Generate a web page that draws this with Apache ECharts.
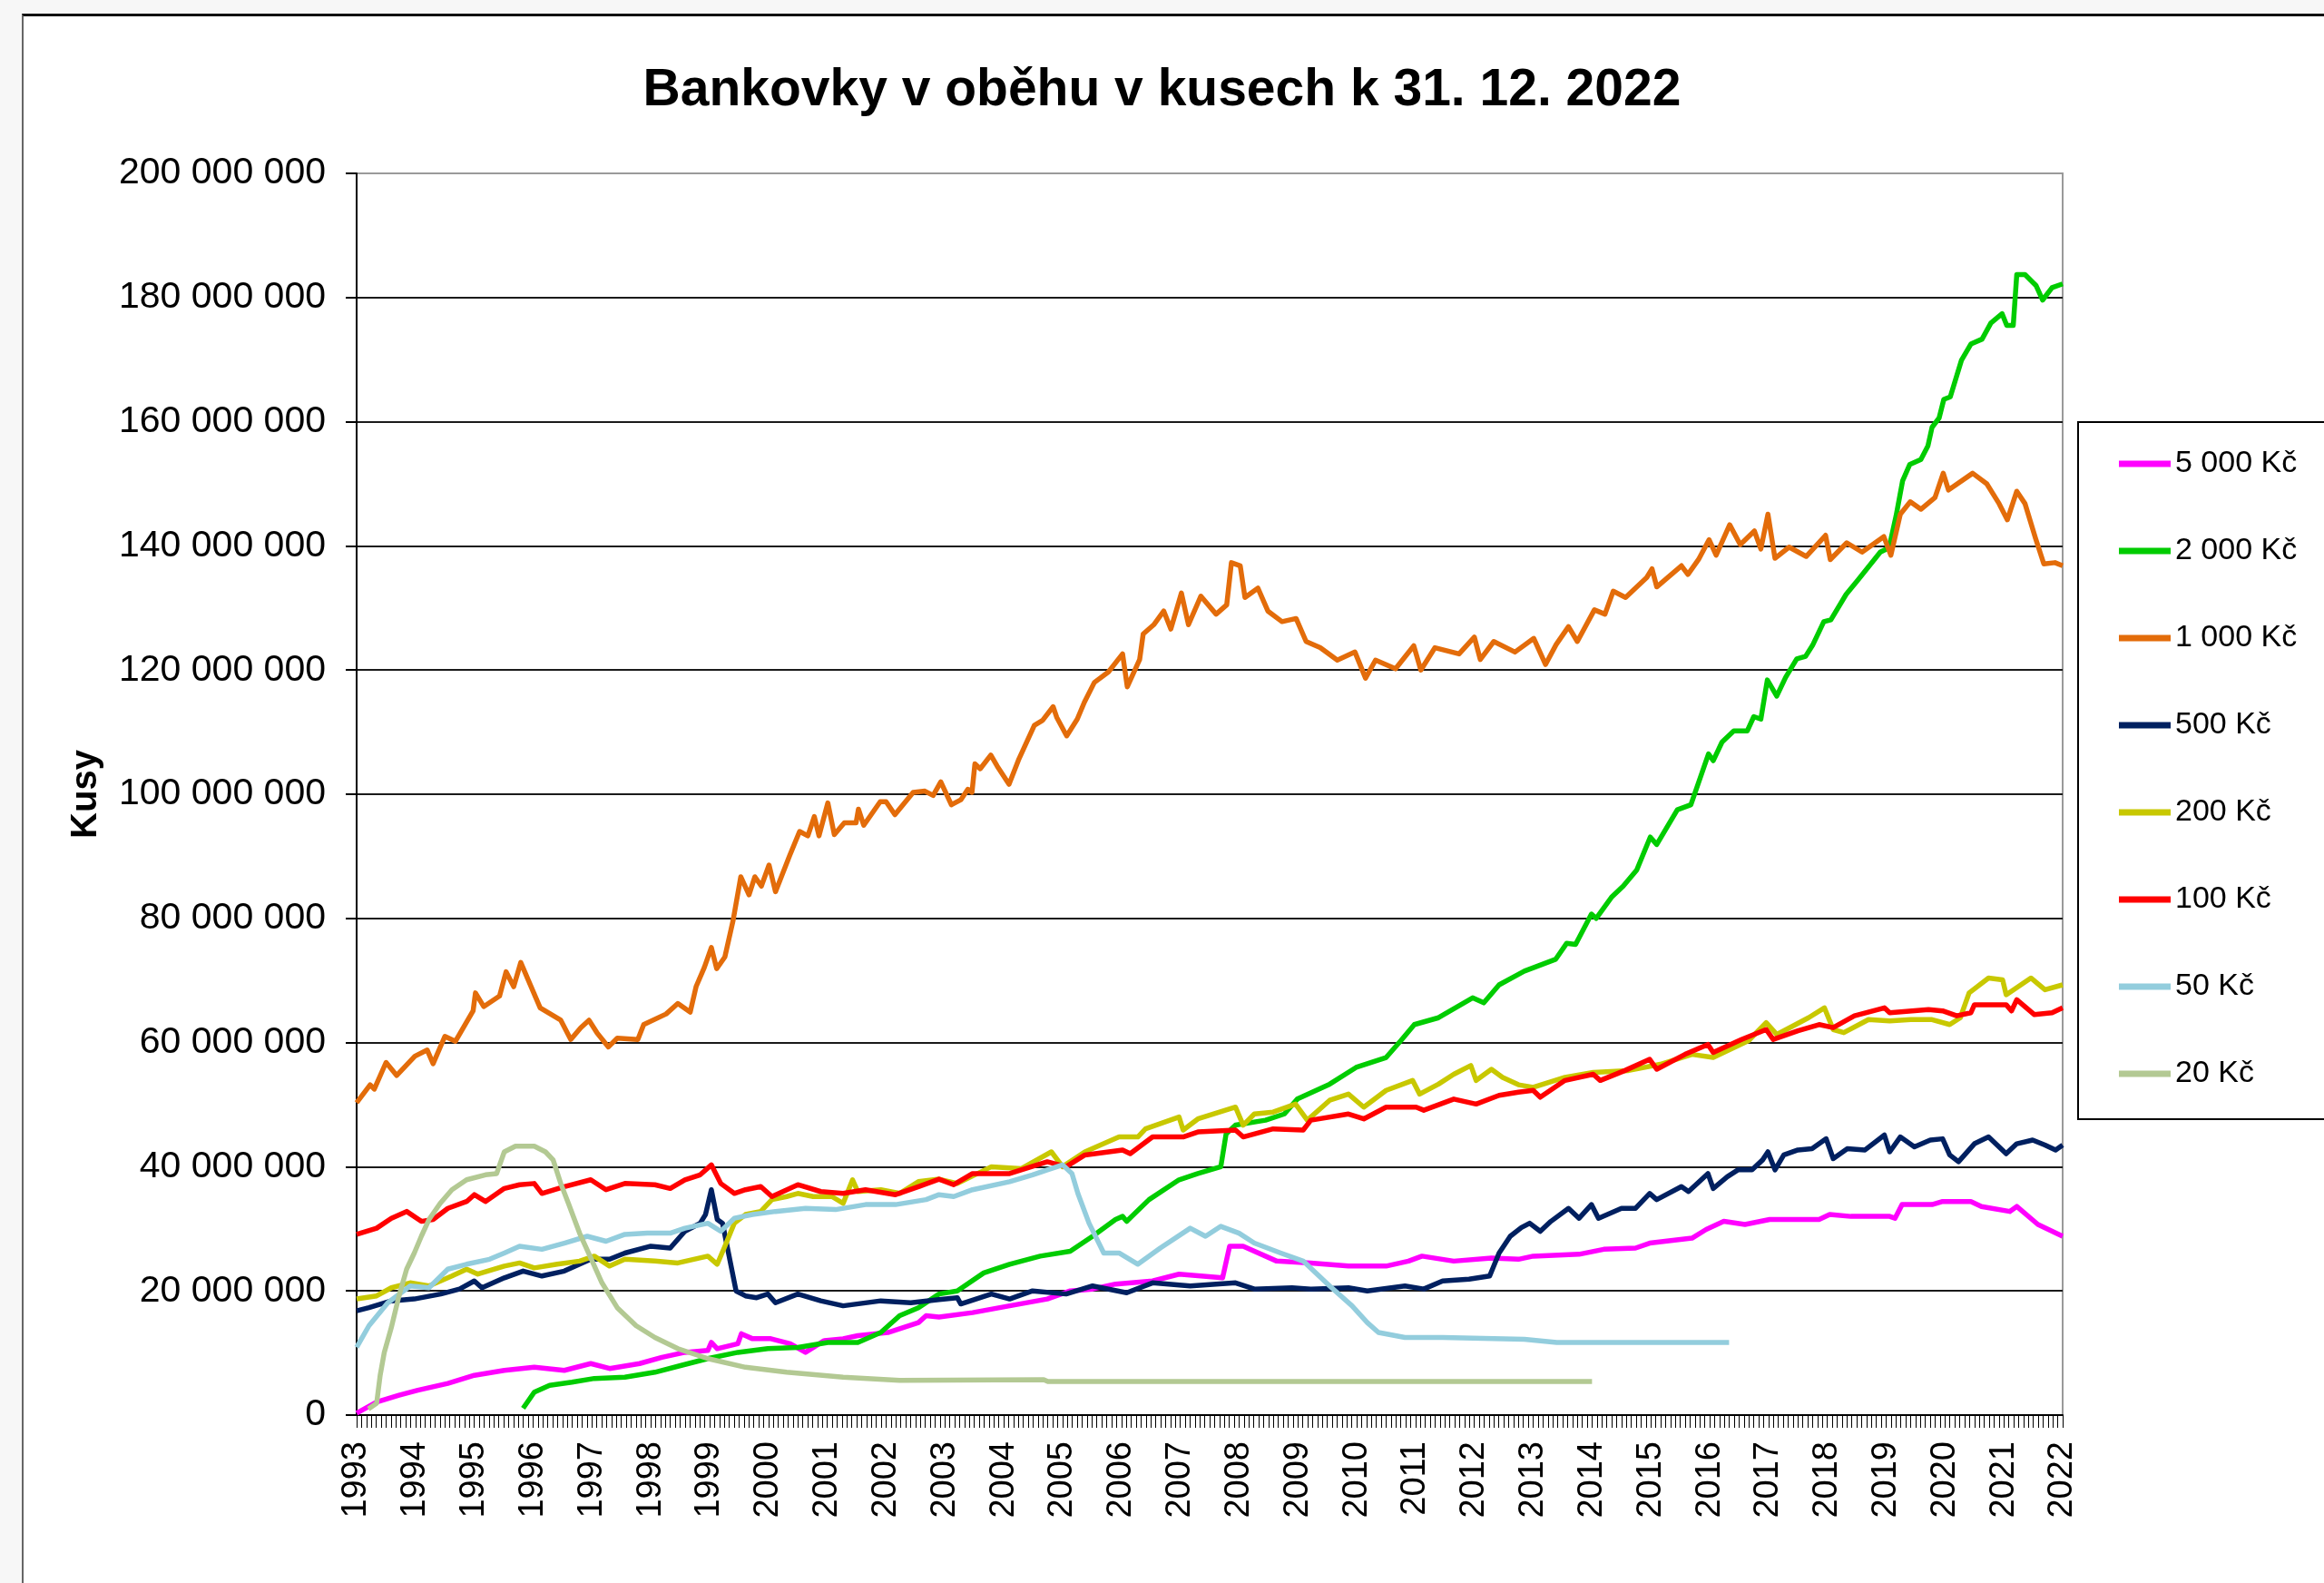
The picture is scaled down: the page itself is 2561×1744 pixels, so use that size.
<!DOCTYPE html>
<html>
<head>
<meta charset="utf-8">
<title>Bankovky v oběhu</title>
<script src="https://cdn.jsdelivr.net/npm/echarts@6/dist/echarts.min.js"></script>
<style>
html, body { margin: 0; padding: 0; background: #f7f7f7; }
#frame { position: absolute; left: 24px; top: 15px; width: 2600px; height: 1800px; background: #fff;
         border-left: 2px solid #666; border-top: 3px solid #111; }
#main { position: absolute; left: 0; top: 0; width: 2561px; height: 1744px; }
</style>
</head>
<body>
<div id="frame"></div>
<div id="main"></div>
<script>
// hodnoty v milionech kusu, [rok, pocet]
var yearLabels = [1993, 2022];
var seriesNames = ['5 000 Kč', '2 000 Kč', '1 000 Kč', '500 Kč', '200 Kč', '100 Kč', '50 Kč', '20 Kč'];
var seriesColors = ['#ff00ff', '#00cc00', '#e36c0a', '#002060', '#c8c800', '#ff0000', '#93cddd', '#b3c993'];

var b5000 = [[1993.0,0.3],[1993.34,2.1],[1993.72,3.2],[1994.04,4.0],[1994.55,5.1],[1995.0,6.4],[1995.51,7.2],
    [1996.02,7.7],[1996.53,7.2],[1996.98,8.3],[1997.3,7.5],[1997.81,8.3],[1998.19,9.3],[1998.58,10.1],[1998.97,10.4],
    [1999.03,11.7],[1999.13,10.7],[1999.48,11.5],[1999.54,13.1],[1999.73,12.3],[2000.04,12.3],[2000.37,11.5],
    [2000.63,10.1],[2000.95,12.0],[2001.27,12.3],[2001.52,12.8],[2002.03,13.3],[2002.55,14.9],[2002.68,16.0],
    [2002.9,15.8],[2003.47,16.5],[2004.1,17.6],[2004.74,18.7],[2005.13,20.0],[2005.51,20.3],[2005.9,21.1],
    [2006.53,21.6],[2006.98,22.7],[2007.72,22.1],[2007.84,27.2],[2008.07,27.2],[2008.64,24.8],[2009.22,24.5],
    [2009.86,24.0],[2010.5,24.0],[2010.88,24.8],[2011.11,25.6],[2011.65,24.8],[2012.29,25.3],[2012.75,25.1],
    [2013.0,25.6],[2013.78,25.9],[2014.2,26.7],[2014.74,26.9],[2014.98,27.7],[2015.7,28.5],[2015.94,29.9],
    [2016.24,31.2],[2016.6,30.7],[2017.02,31.5],[2017.86,31.5],[2018.04,32.3],[2018.4,32.0],[2019.06,32.0],
    [2019.15,31.7],[2019.27,33.9],[2019.78,33.9],[2019.96,34.4],[2020.44,34.4],[2020.62,33.6],[2021.1,32.8],
    [2021.22,33.6],[2021.58,30.7],[2022.0,28.8]];

var b2000 = [[1995.83,1.1],[1996.02,3.7],[1996.28,4.8],[1996.66,5.3],[1997.04,5.9],[1997.56,6.1],[1998.07,6.9],
    [1998.52,8.0],[1998.97,9.1],[1999.48,10.1],[1999.99,10.7],[2000.5,10.9],[2001.01,11.7],[2001.52,11.7],
    [2001.91,13.3],[2002.23,16.0],[2002.55,17.3],[2002.9,19.5],[2003.21,20.0],[2003.66,22.9],[2004.1,24.3],
    [2004.62,25.6],[2005.13,26.4],[2005.51,28.8],[2005.9,31.5],[2006.02,32.0],[2006.09,31.2],[2006.47,34.7],
    [2006.98,37.9],[2007.3,38.9],[2007.69,40.0],[2007.78,45.3],[2007.94,46.7],[2008.45,47.5],[2008.77,48.5],
    [2008.99,50.9],[2009.54,53.3],[2009.99,56.0],[2010.5,57.6],[2010.75,60.3],[2010.98,62.9],[2011.39,64.0],
    [2011.97,67.2],[2012.16,66.4],[2012.42,69.3],[2012.85,71.5],[2013.38,73.4],[2013.57,76.0],[2013.72,75.8],
    [2013.99,80.7],[2014.07,80.0],[2014.33,83.4],[2014.53,85.2],[2014.76,87.8],[2014.99,93.1],[2015.1,91.9],
    [2015.45,97.5],[2015.68,98.3],[2015.98,106.5],[2016.06,105.4],[2016.21,108.4],[2016.41,110.2],[2016.64,110.2],
    [2016.75,112.5],[2016.87,112.1],[2016.98,118.4],[2017.14,115.8],[2017.29,118.8],[2017.48,121.8],[2017.63,122.2],
    [2017.75,124.0],[2017.94,127.8],[2018.06,128.1],[2018.32,132.2],[2018.52,134.5],[2018.9,139.0],[2019.05,139.7],
    [2019.17,144.9],[2019.28,150.5],[2019.4,153.1],[2019.59,153.9],[2019.71,156.1],[2019.78,159.1],[2019.9,160.6],
    [2019.98,163.6],[2020.09,164.0],[2020.28,169.9],[2020.44,172.5],[2020.63,173.3],[2020.78,175.9],[2020.97,177.4],
    [2021.05,175.5],[2021.16,175.5],[2021.22,183.7],[2021.36,183.7],[2021.55,181.9],[2021.66,179.6],[2021.82,181.6],
    [2022.0,182.2]];

var b1000 = [[1993.0,50.3],[1993.23,53.2],[1993.3,52.5],[1993.5,56.8],[1993.68,54.7],[1993.99,57.8],[1994.2,58.8],
    [1994.3,56.6],[1994.5,61.0],[1994.68,60.2],[1994.98,65.1],[1995.02,68.0],[1995.16,65.8],[1995.43,67.5],
    [1995.54,71.4],[1995.67,69.0],[1995.79,72.9],[1995.92,70.0],[1996.12,65.6],[1996.47,63.6],[1996.64,60.5],
    [1996.81,62.4],[1996.95,63.6],[1997.09,61.5],[1997.28,59.3],[1997.43,60.7],[1997.78,60.5],[1997.88,62.9],
    [1998.26,64.6],[1998.46,66.3],[1998.67,64.9],[1998.77,69.0],[1998.91,72.1],[1999.03,75.3],[1999.12,71.9],
    [1999.26,73.8],[1999.4,79.7],[1999.53,86.7],[1999.67,83.8],[1999.77,86.7],[1999.88,85.2],[2000.01,88.6],
    [2000.12,84.3],[2000.36,90.1],[2000.53,94.0],[2000.67,93.3],[2000.78,96.4],[2000.86,93.3],[2001.01,98.6],
    [2001.12,93.5],[2001.29,95.4],[2001.49,95.4],[2001.53,97.6],[2001.62,95.0],[2001.9,98.8],[2002.0,98.8],
    [2002.15,96.7],[2002.46,100.3],[2002.66,100.5],[2002.8,99.8],[2002.93,102.0],[2003.11,98.3],[2003.27,99.1],
    [2003.39,100.8],[2003.46,100.3],[2003.51,104.9],[2003.6,104.1],[2003.78,106.3],[2003.89,104.5],[2004.09,101.6],
    [2004.25,105.5],[2004.52,111.1],[2004.66,111.9],[2004.84,114.1],[2004.9,112.4],[2005.07,109.4],[2005.25,112.1],
    [2005.37,114.8],[2005.54,118.0],[2005.78,119.7],[2006.02,122.6],[2006.1,117.3],[2006.31,121.7],[2006.37,125.8],
    [2006.55,127.3],[2006.72,129.5],[2006.84,126.6],[2007.02,132.4],[2007.14,127.3],[2007.35,131.9],[2007.61,129.0],
    [2007.79,130.5],[2007.87,137.3],[2008.02,136.8],[2008.1,131.7],[2008.32,133.2],[2008.49,129.5],[2008.73,127.8],
    [2008.97,128.3],[2009.14,124.6],[2009.38,123.6],[2009.67,121.6],[2009.97,122.9],[2010.15,118.7],[2010.32,121.6],
    [2010.66,120.2],[2010.97,123.9],[2011.09,120.0],[2011.33,123.6],[2011.74,122.6],[2012.0,125.3],[2012.1,121.7],
    [2012.33,124.6],[2012.69,122.9],[2013.01,125.1],[2013.21,120.9],[2013.39,124.1],[2013.6,127.0],[2013.75,124.6],
    [2014.04,129.7],[2014.22,129.0],[2014.36,132.7],[2014.57,131.7],[2014.93,134.9],[2015.02,136.3],[2015.1,133.4],
    [2015.52,136.8],[2015.63,135.4],[2015.81,137.8],[2015.99,141.0],[2016.11,138.5],[2016.34,143.4],[2016.52,140.2],
    [2016.76,142.4],[2016.87,139.5],[2016.99,145.1],[2017.11,138.0],[2017.35,139.8],[2017.64,138.3],[2017.97,141.7],
    [2018.05,137.8],[2018.33,140.5],[2018.59,139.0],[2018.96,141.5],[2019.08,138.5],[2019.24,145.1],[2019.41,147.1],
    [2019.59,145.9],[2019.83,147.8],[2019.97,151.7],[2020.06,149.0],[2020.47,151.7],[2020.71,150.0],[2020.92,146.8],
    [2021.06,144.2],[2021.22,148.8],[2021.36,146.8],[2021.54,141.2],[2021.68,137.1],[2021.87,137.3],[2022.0,136.8]];

var b500 = [[1993.0,16.8],[1993.21,17.3],[1993.59,18.4],[1993.98,18.7],[1994.43,19.5],[1994.75,20.3],[1995.0,21.6],
    [1995.13,20.5],[1995.51,22.1],[1995.83,23.2],[1996.15,22.4],[1996.53,23.2],[1996.98,25.1],[1997.3,25.1],
    [1997.56,26.1],[1998.0,27.2],[1998.33,26.9],[1998.58,29.6],[1998.84,30.9],[1998.93,32.3],[1999.03,36.3],
    [1999.13,31.5],[1999.22,30.9],[1999.45,20.0],[1999.61,19.2],[1999.8,18.9],[1999.99,19.5],[2000.12,18.1],
    [2000.5,19.5],[2000.89,18.4],[2001.27,17.6],[2001.91,18.4],[2002.42,18.1],[2002.9,18.6],[2003.21,18.9],
    [2003.27,17.9],[2003.79,19.5],[2004.1,18.7],[2004.49,20.0],[2005.06,19.5],[2005.51,20.8],[2006.09,19.7],
    [2006.53,21.3],[2007.17,20.8],[2007.94,21.3],[2008.26,20.3],[2008.9,20.5],[2009.22,20.3],[2009.86,20.5],
    [2010.18,20.0],[2010.82,20.8],[2011.14,20.3],[2011.46,21.6],[2011.91,21.9],[2012.26,22.4],[2012.42,26.1],
    [2012.61,28.8],[2012.8,30.2],[2012.94,30.9],[2013.12,29.6],[2013.3,31.2],[2013.6,33.3],[2013.78,31.7],
    [2013.99,33.9],[2014.11,31.7],[2014.5,33.3],[2014.74,33.3],[2014.98,35.7],[2015.1,34.7],[2015.52,36.8],
    [2015.64,36.0],[2015.97,38.9],[2016.06,36.5],[2016.3,38.4],[2016.48,39.5],[2016.72,39.5],[2016.9,41.1],
    [2016.99,42.4],[2017.11,39.5],[2017.26,41.9],[2017.5,42.7],[2017.74,42.9],[2017.98,44.5],[2018.1,41.3],
    [2018.34,42.9],[2018.64,42.7],[2018.97,45.1],[2019.06,42.4],[2019.24,44.8],[2019.48,43.2],[2019.75,44.3],
    [2019.96,44.5],[2020.08,41.9],[2020.23,40.8],[2020.5,43.7],[2020.74,44.8],[2021.04,42.1],[2021.22,43.7],
    [2021.49,44.3],[2021.7,43.5],[2021.88,42.7],[2022.0,43.5]];

var b200 = [[1993.0,18.7],[1993.34,19.2],[1993.59,20.5],[1993.91,21.3],[1994.23,20.8],[1994.62,22.4],[1994.87,23.5],
    [1995.06,22.7],[1995.51,24.0],[1995.77,24.5],[1996.02,23.7],[1996.41,24.3],[1996.79,24.8],[1997.04,25.6],
    [1997.3,24.0],[1997.56,25.1],[1998.07,24.8],[1998.46,24.5],[1998.97,25.6],[1999.13,24.3],[1999.26,27.2],
    [1999.42,30.9],[1999.61,32.3],[1999.87,32.8],[2000.06,34.7],[2000.31,35.2],[2000.5,35.7],[2000.76,35.2],
    [2001.08,35.2],[2001.27,34.1],[2001.43,37.9],[2001.52,36.0],[2001.91,36.3],[2002.23,35.7],[2002.55,37.6],
    [2002.9,38.0],[2003.21,37.3],[2003.79,40.0],[2004.3,39.7],[2004.81,42.4],[2005.0,40.0],[2005.38,42.4],
    [2005.96,44.8],[2006.28,44.8],[2006.41,46.1],[2006.98,48.0],[2007.05,45.9],[2007.3,47.7],[2007.94,49.6],
    [2008.07,46.7],[2008.26,48.5],[2008.58,48.8],[2008.96,50.1],[2009.16,47.5],[2009.54,50.7],[2009.86,51.7],
    [2010.12,49.6],[2010.5,52.3],[2010.95,53.9],[2011.07,51.7],[2011.39,53.3],[2011.65,54.9],[2011.94,56.3],
    [2012.03,53.9],[2012.29,55.7],[2012.48,54.4],[2012.75,53.2],[2013.0,52.8],[2013.54,54.4],[2014.02,55.2],
    [2014.62,55.5],[2015.16,56.5],[2015.7,58.1],[2016.06,57.6],[2016.66,60.3],[2016.96,63.2],[2017.14,61.3],
    [2017.68,64.0],[2017.95,65.6],[2018.1,62.1],[2018.28,61.6],[2018.7,63.7],[2019.06,63.5],[2019.42,63.7],
    [2019.78,63.7],[2020.08,62.9],[2020.26,64.0],[2020.41,68.0],[2020.74,70.4],[2020.98,70.1],[2021.04,67.7],
    [2021.46,70.4],[2021.7,68.5],[2022.0,69.3]];

var b100 = [[1993.0,29.1],[1993.34,30.1],[1993.59,31.7],[1993.85,32.8],[1994.1,31.2],[1994.3,31.5],[1994.55,33.3],
    [1994.87,34.4],[1995.0,35.5],[1995.19,34.4],[1995.51,36.5],[1995.77,37.1],[1996.02,37.3],[1996.15,35.7],
    [1996.53,36.8],[1996.98,37.9],[1997.24,36.3],[1997.56,37.3],[1998.07,37.1],[1998.33,36.5],[1998.58,37.9],
    [1998.84,38.7],[1999.03,40.3],[1999.19,37.3],[1999.42,35.7],[1999.61,36.3],[1999.87,36.8],[2000.06,35.2],
    [2000.5,37.1],[2000.89,36.0],[2001.27,35.7],[2001.65,36.3],[2002.16,35.5],[2002.55,36.8],[2002.9,38.0],
    [2003.15,37.1],[2003.47,38.9],[2004.1,38.9],[2004.74,40.8],[2005.06,40.0],[2005.38,41.9],[2006.02,42.7],
    [2006.15,42.1],[2006.53,44.8],[2007.05,44.8],[2007.3,45.6],[2007.94,45.9],[2008.07,44.8],[2008.58,46.1],
    [2009.09,45.9],[2009.22,47.5],[2009.86,48.5],[2010.12,47.7],[2010.5,49.6],[2011.01,49.6],[2011.14,49.1],
    [2011.65,50.9],[2012.03,50.1],[2012.42,51.5],[2012.75,52.0],[2013.0,52.3],[2013.12,51.2],[2013.54,53.9],
    [2014.02,54.9],[2014.14,53.9],[2014.56,55.5],[2014.98,57.3],[2015.1,55.7],[2015.58,58.1],[2015.97,59.7],
    [2016.06,58.4],[2016.54,60.5],[2016.96,62.1],[2017.08,60.5],[2017.5,61.9],[2017.86,62.9],[2018.1,62.4],
    [2018.46,64.3],[2018.97,65.6],[2019.06,64.8],[2019.72,65.3],[2019.96,65.1],[2020.2,64.3],[2020.44,64.8],
    [2020.5,66.1],[2021.04,66.1],[2021.13,65.1],[2021.22,66.9],[2021.52,64.5],[2021.82,64.8],[2022.0,65.6]];

var b50 = [[1993.0,10.9],[1993.21,14.4],[1993.53,18.1],[1993.91,20.8],[1994.23,20.5],[1994.55,23.5],[1994.87,24.3],
    [1995.26,25.1],[1995.51,26.1],[1995.77,27.2],[1996.15,26.7],[1996.53,27.7],[1996.92,28.8],[1997.24,28.0],
    [1997.56,29.1],[1997.94,29.3],[1998.33,29.3],[1998.58,30.1],[1998.97,30.9],[1999.19,29.6],[1999.42,31.7],
    [1999.73,32.3],[2000.12,32.8],[2000.63,33.3],[2001.14,33.1],[2001.65,33.9],[2002.16,33.9],[2002.68,34.7],
    [2002.9,35.5],[2003.15,35.2],[2003.47,36.3],[2004.1,37.6],[2004.49,38.7],[2004.74,39.5],[2005.0,40.3],
    [2005.16,38.9],[2005.26,35.7],[2005.45,30.9],[2005.7,26.1],[2005.96,26.1],[2006.28,24.3],[2006.66,26.9],
    [2007.17,30.1],[2007.43,28.8],[2007.69,30.4],[2008.0,29.3],[2008.26,27.7],[2008.71,26.1],[2009.09,24.8],
    [2009.54,20.8],[2009.92,17.6],[2010.18,14.9],[2010.37,13.3],[2010.82,12.5],[2011.46,12.5],[2012.85,12.2],
    [2013.4,11.7],[2016.33,11.7]];

var b20 = [[1993.2,1.0],[1993.34,1.9],[1993.4,6.4],[1993.47,10.1],[1993.59,14.1],[1993.72,19.2],[1993.85,23.5],
    [1993.98,26.1],[1994.1,28.8],[1994.23,31.5],[1994.42,34.1],[1994.62,36.3],[1994.87,37.9],[1995.19,38.7],
    [1995.38,38.9],[1995.51,42.4],[1995.7,43.3],[1996.02,43.3],[1996.21,42.4],[1996.34,41.1],[1996.47,37.3],
    [1996.6,34.1],[1996.79,29.3],[1996.98,25.3],[1997.17,21.3],[1997.43,17.3],[1997.75,14.4],[1998.07,12.5],
    [1998.46,10.7],[1998.97,9.1],[1999.61,7.7],[2000.31,6.9],[2001.27,6.1],[2002.23,5.6],[2004.68,5.7],
    [2004.75,5.4],[2014.0,5.4]];

var allData = [b5000, b2000, b1000, b500, b200, b100, b50, b20];

function fmtSpace(v) {
    return String(v).replace(/\B(?=(\d{3})+(?!\d))/g, ' ');
}

var font = 'Liberation Sans, Arial, sans-serif';
var myChart = echarts.init(document.getElementById('main'));

// mrizka: posledni (200 mil.) je seda jako ramecek
var gridColors = [];
for (var i = 0; i < 10; i++) gridColors.push('#1a1a1a');
gridColors.push('#9a9a9a');

var option = {
    animation: false,
    backgroundColor: 'transparent',
    title: {
        text: 'Bankovky v oběhu v kusech k 31. 12. 2022',
        left: 'center',
        top: 72,
        padding: [0, 0, 0, 20],
        textStyle: { fontFamily: font, fontSize: 57, fontWeight: 'bold', color: '#000' }
    },
    legend: {
        orient: 'vertical',
        left: 2290,
        top: 465,
        padding: [26, 80, 30, 45],
        itemGap: 56,
        itemWidth: 57,
        itemHeight: 7,
        icon: 'rect',
        borderColor: '#000',
        borderWidth: 2,
        textStyle: { fontFamily: font, fontSize: 34, color: '#000', lineHeight: 40 },
        data: seriesNames
    },
    grid: {
        left: 393, right: 288, top: 191, bottom: 185,
        show: true, borderColor: '#9a9a9a', borderWidth: 2, backgroundColor: 'transparent'
    },
    xAxis: {
        type: 'value',
        min: yearLabels[0],
        max: yearLabels[1],
        interval: 1,
        axisLine: { lineStyle: { color: '#000', width: 2 } },
        axisTick: { length: 14, lineStyle: { color: '#000', width: 1 } },
        minorTick: { show: true, splitNumber: 12, length: 14, lineStyle: { color: '#000', width: 1 } },
        splitLine: { show: false },
        axisLabel: {
            rotate: 90, margin: 29, fontSize: 38, fontFamily: font, color: '#000',
            showMinLabel: true, showMaxLabel: true,
            formatter: function (v) { return String(v); }
        }
    },
    yAxis: {
        type: 'value',
        min: 0,
        max: 200000000,
        interval: 20000000,
        name: 'Kusy',
        nameLocation: 'middle',
        nameGap: 278,
        nameTextStyle: { fontFamily: font, fontSize: 40, fontWeight: 'bold', color: '#000' },
        axisLine: { show: true, lineStyle: { color: '#000', width: 2 } },
        axisTick: { show: true, length: 12, lineStyle: { color: '#000', width: 2 } },
        splitLine: { lineStyle: { color: gridColors, width: 2 } },
        axisLabel: { margin: 34, fontSize: 41, fontFamily: font, color: '#000', formatter: fmtSpace }
    },
    series: (function () {
        var series = [];
        for (var i = 0; i < seriesNames.length; i++) {
            series.push({
                name: seriesNames[i],
                type: 'line',
                symbol: 'none',
                color: seriesColors[i],
                lineStyle: { width: 5.5, color: seriesColors[i], join: 'round' },
                data: allData[i].map(function (p) { return [p[0], p[1] * 1000000]; })
            });
        }
        return series;
    })()
};
myChart.setOption(option);
</script>
</body>
</html>
